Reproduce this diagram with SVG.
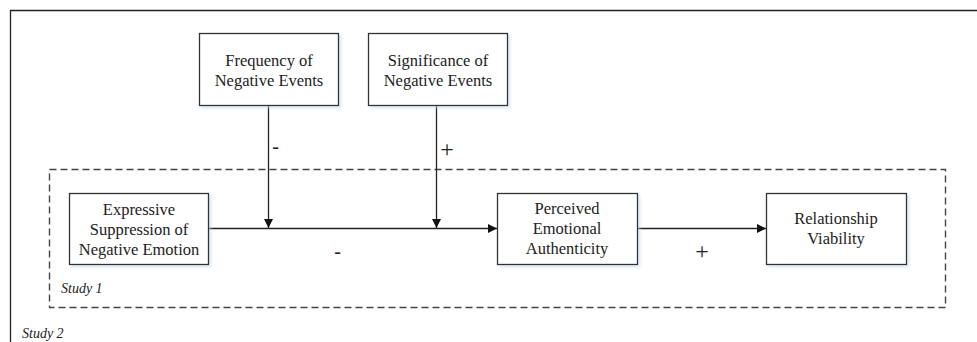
<svg xmlns="http://www.w3.org/2000/svg" width="977" height="342" viewBox="0 0 977 342">
<defs>
<style>
.box{fill:#fff;stroke:#333;stroke-width:1.3}
.t{font-family:"Liberation Serif","Times New Roman",serif;font-size:16.5px;fill:#222;text-anchor:middle}
.s{font-family:"Liberation Serif","Times New Roman",serif;font-size:14px;font-style:italic;fill:#222}
.c{stroke:#222;stroke-width:1.3;fill:none}
.sg{font-family:"Liberation Serif","Times New Roman",serif;font-size:20px;fill:#222;text-anchor:middle}
.pl{font-family:"Liberation Serif","Times New Roman",serif;font-size:24px;font-weight:300;fill:#222;text-anchor:middle}
</style>
<filter id="sh" x="-10%" y="-10%" width="130%" height="130%">
<feDropShadow dx="2" dy="2" stdDeviation="1.5" flood-color="#bcd4ea" flood-opacity="0.6"/>
</filter>
<marker id="ah" viewBox="0 0 10 10" refX="10" refY="5" markerWidth="9" markerHeight="9" markerUnits="userSpaceOnUse" orient="auto">
<path d="M0,0 L10,5 L0,10 Z" fill="#111"/>
</marker>
</defs>
<rect width="977" height="342" fill="#fff"/>
<g id="study2">
<path d="M10.5,342 L10.5,10.5 L977,10.5" fill="none" stroke="#222" stroke-width="1.3"/>
<text class="s" x="22" y="338">Study 2</text>
</g>
<g id="study1">
<rect x="49.5" y="169.5" width="896" height="138" fill="none" stroke="#444" stroke-width="1.4" stroke-dasharray="7 4"/>
<text class="s" x="61" y="293">Study 1</text>
</g>
<g id="connectors">
<line class="c" x1="268.5" y1="105" x2="268.5" y2="228" marker-end="url(#ah)"/>
<line class="c" x1="436.5" y1="105" x2="436.5" y2="228" marker-end="url(#ah)"/>
<line class="c" x1="209" y1="228.5" x2="497" y2="228.5" marker-end="url(#ah)"/>
<line class="c" x1="637" y1="228.5" x2="766" y2="228.5" marker-end="url(#ah)"/>
<text class="sg" x="275.5" y="153">-</text>
<text class="pl" x="447" y="157">+</text>
<text class="sg" x="337.5" y="258">-</text>
<text class="pl" x="702" y="259">+</text>
</g>
<g id="frequency">
<rect class="box" filter="url(#sh)" x="199.5" y="33.5" width="139" height="72"/>
<text class="t" x="269" y="66">Frequency of</text>
<text class="t" x="269" y="86">Negative Events</text>
</g>
<g id="significance">
<rect class="box" filter="url(#sh)" x="368.5" y="33.5" width="139" height="72"/>
<text class="t" x="438" y="66">Significance of</text>
<text class="t" x="438" y="86">Negative Events</text>
</g>
<g id="suppression">
<rect class="box" filter="url(#sh)" x="69.5" y="193.5" width="139" height="71"/>
<text class="t" x="139" y="215">Expressive</text>
<text class="t" x="139" y="235">Suppression of</text>
<text class="t" x="139" y="255">Negative Emotion</text>
</g>
<g id="authenticity">
<rect class="box" filter="url(#sh)" x="497.5" y="193.5" width="140" height="71"/>
<text class="t" x="567" y="214">Perceived</text>
<text class="t" x="567" y="234">Emotional</text>
<text class="t" x="567" y="254">Authenticity</text>
</g>
<g id="viability">
<rect class="box" filter="url(#sh)" x="766.5" y="193.5" width="140" height="71"/>
<text class="t" x="836" y="224">Relationship</text>
<text class="t" x="836" y="244">Viability</text>
</g>
</svg>
